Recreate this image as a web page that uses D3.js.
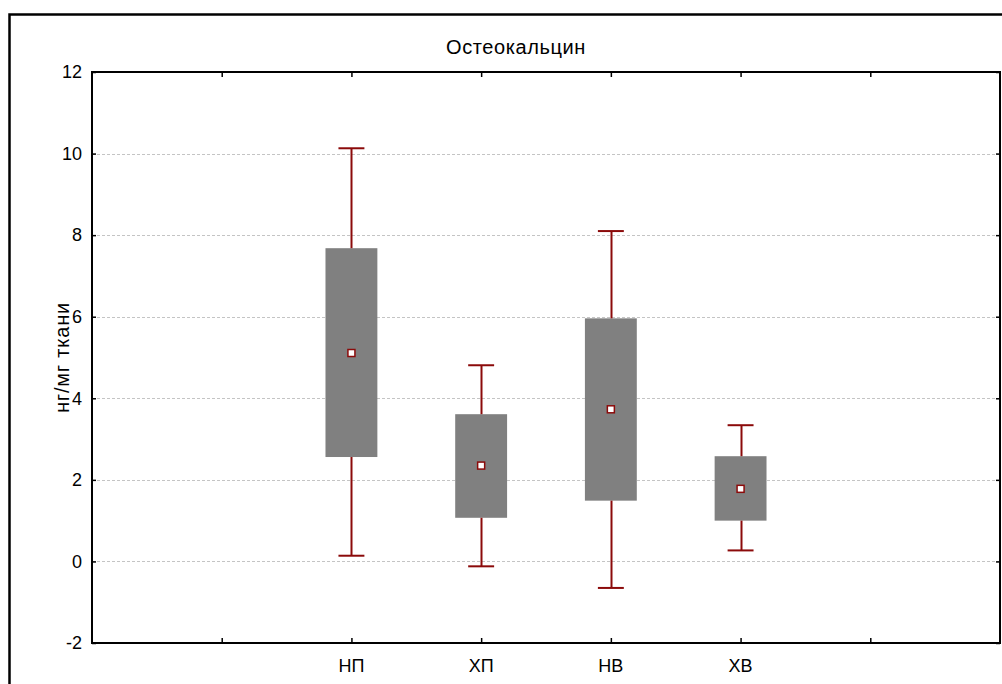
<!DOCTYPE html>
<html>
<head>
<meta charset="utf-8">
<script src="https://cdn.jsdelivr.net/npm/d3@7"></script>
<style>
  body { margin: 0; background: #fff; }
  svg { display: block; font-family: "Liberation Sans", Arial, sans-serif; }
</style>
</head>
<body>
<svg id="chart"></svg>
<script>
// Chart dimensions
const width = 1002;
const height = 684;
const marginTop = 72;
const marginRight = 2;
const marginBottom = 41;
const marginLeft = 92;

// data
const groups   = ["НП", "ХП", "НВ", "ХВ"];
const groupPos = [2, 3, 4, 5];           // slot on the 0..7 axis
const whiskLo  = [0.14, -0.12, -0.65, 0.27];
const boxLo    = [2.56, 1.07, 1.49, 1.00];
const means    = [5.11, 2.35, 3.73, 1.78];
const boxHi    = [7.68, 3.61, 5.96, 2.58];
const whiskHi  = [10.13, 4.81, 8.10, 3.34];
const yTicks   = [-2, 0, 2, 4, 6, 8, 10, 12];
const gridVals = [0, 2, 4, 6, 8, 10];
const xTicks   = [1, 2, 3, 4, 5, 6];

const data = groups.map((g, i) => ({
  name: g, pos: groupPos[i],
  lo: whiskLo[i], q1: boxLo[i], mean: means[i], q3: boxHi[i], hi: whiskHi[i]
}));

const svg = d3.select("#chart")
  .attr("width", width)
  .attr("height", height);

const x = d3.scaleLinear()
  .domain([0, 7])
  .range([marginLeft, width - marginRight]);

const y = d3.scaleLinear()
  .domain([-2, 12])
  .range([height - marginBottom, marginTop]);

const darkRed = "#8b0a0a";
const unit = x(1) - x(0);

// outer frame (runs off the right and bottom)
svg.append("rect")
  .attr("x", 9.5).attr("y", 14.5)
  .attr("width", 1020).attr("height", 700)
  .attr("fill", "none")
  .attr("stroke", "#000")
  .attr("stroke-width", 2.5);

// grid
svg.append("g")
  .selectAll("line")
  .data(gridVals)
  .join("line")
    .attr("x1", marginLeft).attr("x2", width - marginRight)
    .attr("y1", d => Math.round(y(d)) + 0.5)
    .attr("y2", d => Math.round(y(d)) + 0.5)
    .attr("stroke", "#c4c4c4")
    .attr("stroke-dasharray", "3,2");

// boxes
const g = svg.append("g");
g.selectAll("rect.box")
  .data(data)
  .join("rect")
    .attr("class", "box")
    .attr("x", d => x(d.pos) - unit * 0.2)
    .attr("width", unit * 0.4)
    .attr("y", d => y(d.q3))
    .attr("height", d => y(d.q1) - y(d.q3))
    .attr("fill", "#808080");

// whiskers
g.selectAll("line.wu")
  .data(data)
  .join("line")
    .attr("x1", d => Math.round(x(d.pos)) + 0.5).attr("x2", d => Math.round(x(d.pos)) + 0.5)
    .attr("y1", d => y(d.hi)).attr("y2", d => y(d.q3))
    .attr("stroke", darkRed).attr("stroke-width", 2);

g.selectAll("line.wl")
  .data(data)
  .join("line")
    .attr("x1", d => Math.round(x(d.pos)) + 0.5).attr("x2", d => Math.round(x(d.pos)) + 0.5)
    .attr("y1", d => y(d.q1)).attr("y2", d => y(d.lo))
    .attr("stroke", darkRed).attr("stroke-width", 2);

// caps
g.selectAll("line.cap")
  .data(data.flatMap(d => [{pos: d.pos, v: d.hi}, {pos: d.pos, v: d.lo}]))
  .join("line")
    .attr("x1", d => x(d.pos) - unit * 0.1).attr("x2", d => x(d.pos) + unit * 0.1)
    .attr("y1", d => y(d.v)).attr("y2", d => y(d.v))
    .attr("stroke", darkRed).attr("stroke-width", 2);

// mean markers
g.selectAll("rect.mean")
  .data(data)
  .join("rect")
    .attr("x", d => x(d.pos) - 3.5)
    .attr("y", d => y(d.mean) - 3.5)
    .attr("width", 7).attr("height", 7)
    .attr("fill", "#fff")
    .attr("stroke", darkRed)
    .attr("stroke-width", 1.5);

// axes (ticks point inward)
const tickStyle = a => a.call(s => s.selectAll("line").attr("stroke", "#000").attr("stroke-width", 1.5))
  .call(s => s.select(".domain").remove());

svg.append("g")
  .attr("transform", `translate(${marginLeft},0)`)
  .call(d3.axisRight(y).tickValues(yTicks).tickSize(4).tickFormat(""))
  .call(tickStyle);

svg.append("g")
  .attr("transform", `translate(${width - marginRight},0)`)
  .call(d3.axisLeft(y).tickValues(yTicks).tickSize(4).tickFormat(""))
  .call(tickStyle);

svg.append("g")
  .attr("transform", `translate(0,${height - marginBottom})`)
  .call(d3.axisTop(x).tickValues(xTicks).tickSize(5).tickFormat(""))
  .call(tickStyle);

svg.append("g")
  .attr("transform", `translate(0,${marginTop})`)
  .call(d3.axisBottom(x).tickValues(xTicks).tickSize(5).tickFormat(""))
  .call(tickStyle);

// plot border
svg.append("rect")
  .attr("x", marginLeft).attr("y", marginTop)
  .attr("width", width - marginRight - marginLeft)
  .attr("height", height - marginBottom - marginTop)
  .attr("fill", "none")
  .attr("stroke", "#000")
  .attr("stroke-width", 2);

// y tick labels
svg.append("g")
  .selectAll("text")
  .data(yTicks)
  .join("text")
    .attr("x", 82)
    .attr("y", d => y(d))
    .attr("dy", "0.35em")
    .attr("text-anchor", "end")
    .attr("font-size", 18)
    .text(d => d);

// x category labels
svg.append("g")
  .selectAll("text")
  .data(data)
  .join("text")
    .attr("x", d => x(d.pos))
    .attr("y", 672)
    .attr("text-anchor", "middle")
    .attr("font-size", 18)
    .text(d => d.name);

// title
svg.append("text")
  .attr("x", 516).attr("y", 54)
  .attr("text-anchor", "middle")
  .attr("font-size", 20)
  .attr("letter-spacing", 0.6)
  .text("Остеокальцин");

// y label
svg.append("text")
  .attr("transform", `translate(69,${(marginTop + height - marginBottom) / 2}) rotate(-90)`)
  .attr("text-anchor", "middle")
  .attr("font-size", 20)
  .attr("letter-spacing", 0.8)
  .text("нг/мг ткани");
</script>
</body>
</html>
